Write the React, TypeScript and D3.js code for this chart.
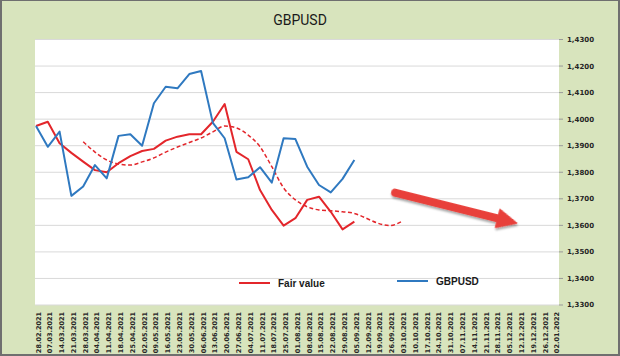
import React from "react";
import * as d3 from "d3";

const dates = [
  "28.02.2021","07.03.2021","14.03.2021","21.03.2021","28.03.2021","04.04.2021","11.04.2021","18.04.2021","25.04.2021",
  "02.05.2021","09.05.2021","16.05.2021","23.05.2021","30.05.2021","06.06.2021","13.06.2021","20.06.2021","27.06.2021",
  "04.07.2021","11.07.2021","18.07.2021","25.07.2021","01.08.2021","08.08.2021","15.08.2021","22.08.2021","29.08.2021",
  "05.09.2021","12.09.2021","19.09.2021","26.09.2021","03.10.2021","10.10.2021","17.10.2021","24.10.2021","31.10.2021",
  "07.11.2021","14.11.2021","21.11.2021","28.11.2021","05.12.2021","12.12.2021","19.12.2021","26.12.2021","02.01.2022",
];

const gbpusd = [
  1.3974, 1.3896, 1.3953, 1.3711, 1.3746, 1.3827, 1.3777, 1.3937, 1.3943, 1.39, 1.406, 1.4122, 1.4116, 1.417,
  1.4181, 1.3986, 1.3928, 1.3773, 1.3781, 1.3819, 1.3761, 1.3928, 1.3925, 1.3821, 1.3752, 1.3724, 1.3775, 1.3846,
];

const fairValue = [
  1.3974, 1.399, 1.3909, 1.3873, 1.384, 1.3808, 1.38, 1.3834, 1.3861, 1.388, 1.3888, 1.3919, 1.3934, 1.3943,
  1.3943, 1.399, 1.4057, 1.3877, 1.3849, 1.3733, 1.3658, 1.3599, 1.3627, 1.3696, 1.3708, 1.3651, 1.3585, 1.3614,
];

// dashed trend of fair value (starts at 28.03.2021)
const fairTrendStart = 4;
const fairTrend = [
  1.3915, 1.3876, 1.3846, 1.3831, 1.3827, 1.3839, 1.3854, 1.3876, 1.3895, 1.3912, 1.3929, 1.3952, 1.3974, 1.3967,
  1.394, 1.3896, 1.3821, 1.3741, 1.3696, 1.367, 1.3658, 1.3655, 1.3651, 1.3645, 1.3627, 1.3608, 1.3599, 1.3614,
];

const yTicks = [1.33, 1.34, 1.35, 1.36, 1.37, 1.38, 1.39, 1.4, 1.41, 1.42, 1.43];

// annotation arrow, in (category index, value) terms
const arrowFrom = [30.45, 1.3723];
const arrowTo = [40.8, 1.3608];

const legendItems = [
  { name: "Fair value", color: "#e3262b" },
  { name: "GBPUSD", color: "#2f79c0" },
];

const W = 620;
const H = 356;
const plot = { left: 35, right: 559, top: 39, bottom: 305 };
const RED = "#e3262b";
const BLUE = "#2f79c0";

export default function App() {
  const x = d3.scalePoint<string>().domain(dates).range([36, 554.8]);
  const xi = d3.scaleLinear().domain([0, dates.length - 1]).range([36, 554.8]);
  const y = d3.scaleLinear().domain([1.33, 1.43]).range([305, 39.5]);

  const line = d3
    .line<[number, number]>()
    .x((d) => xi(d[0]))
    .y((d) => y(d[1]));

  const bluePath = line(gbpusd.map((v, i) => [i, v]))!;
  const redPath = line(fairValue.map((v, i) => [i, v]))!;
  const trendPath = d3
    .line<[number, number]>()
    .x((d) => xi(d[0]))
    .y((d) => y(d[1]))
    .curve(d3.curveMonotoneX)(fairTrend.map((v, i) => [i + fairTrendStart, v]))!;

  // arrow geometry
  const ax0 = xi(arrowFrom[0]);
  const ay0 = y(arrowFrom[1]);
  const ax1 = xi(arrowTo[0]);
  const ay1 = y(arrowTo[1]);
  const ang = Math.atan2(ay1 - ay0, ax1 - ax0);
  const len = Math.hypot(ax1 - ax0, ay1 - ay0);
  const headLen = 20;
  const headW = 9.5;
  const shaftW = 3.4;

  const arrowPoly = [
    [0, -shaftW],
    [len - headLen, -shaftW],
    [len - headLen, -headW],
    [len, 0],
    [len - headLen, headW],
    [len - headLen, shaftW],
    [0, shaftW],
  ]
    .map((p) => p.join(","))
    .join(" ");

  const labelFont = "'DejaVu Sans', Verdana, sans-serif";

  return (
    <svg
      width={W}
      height={H}
      style={{ position: "absolute", left: 0, top: 0, display: "block" }}
    >
      <defs>
        <filter id="shadow" x="-20%" y="-50%" width="140%" height="200%">
          <feGaussianBlur in="SourceAlpha" stdDeviation="1.2" />
          <feOffset dx="1" dy="1.5" result="b" />
          <feComponentTransfer>
            <feFuncA type="linear" slope="0.35" />
          </feComponentTransfer>
          <feMerge>
            <feMergeNode />
            <feMergeNode in="SourceGraphic" />
          </feMerge>
        </filter>
      </defs>
      <rect x={0} y={0} width={W} height={H} fill="#6f6f6f" />
      <rect x={2} y={1} width={W - 4} height={H - 3} fill="#d8e4bd" />

      <text
        x={300}
        y={25}
        textAnchor="middle"
        fontFamily="Roboto, 'Open Sans', sans-serif"
        fontSize={14}
        fill="#1a1a1a"
      >
        GBPUSD
      </text>

      <rect
        x={plot.left}
        y={plot.top}
        width={plot.right - plot.left}
        height={plot.bottom - plot.top}
        fill="#ffffff"
      />

      {yTicks.map((t) => (
        <g key={t}>
          <line
            x1={plot.left}
            x2={plot.right}
            y1={y(t)}
            y2={y(t)}
            stroke="#d9d9d9"
            strokeWidth={1}
          />
          <line x1={plot.right} x2={plot.right + 4} y1={y(t)} y2={y(t)} stroke="#9a9a9a" />
          <text
            x={567}
            y={y(t)}
            dy="0.35em"
            fontFamily={labelFont}
            fontWeight="bold"
            fontSize={7}
            fill="#262626"
          >
            {d3.format(".4f")(t).replace(".", ",")}
          </text>
        </g>
      ))}

      {dates.map((d) => (
        <text
          key={d}
          transform={`translate(${(x(d) as number) + 4.5},312) rotate(-90)`}
          textAnchor="end"
          fontFamily={labelFont}
          fontWeight="bold"
          fontSize={6.5}
          fill="#262626"
        >
          {d}
        </text>
      ))}

      <path d={trendPath} fill="none" stroke={RED} strokeWidth={1.5} strokeDasharray="4,2.5" />
      <path d={redPath} fill="none" stroke={RED} strokeWidth={2} strokeLinejoin="round" />
      <path d={bluePath} fill="none" stroke={BLUE} strokeWidth={2} strokeLinejoin="round" />

      <g
        transform={`translate(${ax0},${ay0}) rotate(${(ang * 180) / Math.PI})`}
        filter="url(#shadow)"
      >
        <polygon points={arrowPoly} fill="#e8403b" strokeLinejoin="round" stroke="#e8403b" strokeWidth={1} />
        <circle cx={0} cy={0} r={shaftW + 0.5} fill="#e8403b" />
      </g>

      {legendItems.map((it, i) => {
        const lx = i === 0 ? 239 : 397;
        const ly = i === 0 ? 283 : 281;
        return (
          <g key={it.name}>
            <line x1={lx} x2={lx + 31} y1={ly} y2={ly} stroke={it.color} strokeWidth={2} />
            <text
              x={lx + 39}
              y={ly}
              dy="0.36em"
              fontFamily="'Liberation Sans', Arial, sans-serif"
              fontWeight="bold"
              fontSize={10}
              fill="#1a1a1a"
            >
              {it.name}
            </text>
          </g>
        );
      })}
    </svg>
  );
}
